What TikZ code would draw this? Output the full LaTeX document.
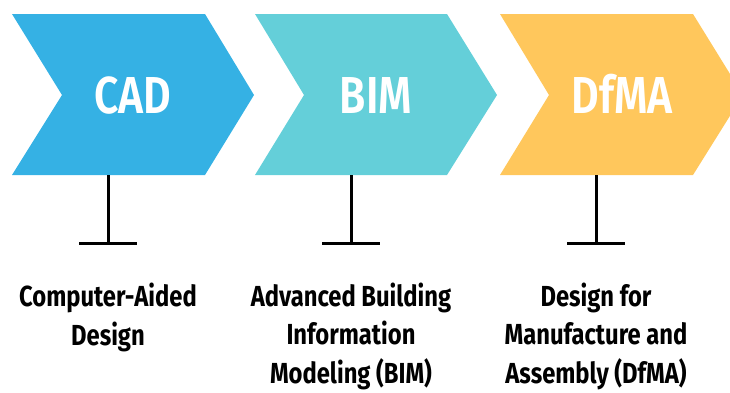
\documentclass[tikz,border=0pt]{standalone}
\usepackage{fontspec}
\setmainfont[FakeStretch=0.82]{Fira Sans}
\newfontfamily\titlefont{Fira Sans}[UprightFont={* SemiBold}, FakeStretch=0.82]
\definecolor{cadblue}{HTML}{35B1E4}
\definecolor{bimteal}{HTML}{64CFD9}
\definecolor{dfmayellow}{HTML}{FFC75C}
\begin{document}
\begin{tikzpicture}[x=1pt,y=-1pt]
\tikzset{
  chev/.style={fill=#1, draw=none},
  titletext/.style={text=white, font=\titlefont\fontsize{52}{60}\selectfont, anchor=base, inner sep=0pt},
  desc/.style={align=center, font=\bfseries\fontsize{29}{38.5}\selectfont, anchor=base, inner sep=0pt},
  stem/.style={line width=3pt, black}
}
\useasboundingbox (0,0) rectangle (730,392);
\clip (0,0) rectangle (730,392);
% chevrons
\fill[chev=cadblue] (12,14) -- (205,14) -- (254,95) -- (205,175) -- (12,175) -- (62,95) -- cycle;
\fill[chev=bimteal] (255,14) -- (447,14) -- (497,95) -- (447,175) -- (255,175) -- (304,95) -- cycle;
\fill[chev=dfmayellow] (500,14) -- (693,14) -- (743,95) -- (693,175) -- (500,175) -- (549,95) -- cycle;
% titles
\node[titletext] (cad) at (133,113) {CAD};
\node[titletext] (bim) at (376,113) {BIM};
\node[titletext] (dfma) at (622,113) {DfMA};
% stems
\coordinate (cadtop) at (108,175); \coordinate (cadfoot) at (108,243);
\coordinate (cadL) at (79,243); \coordinate (cadR) at (137,243);
\coordinate (bimtop) at (351,175); \coordinate (bimfoot) at (351,243);
\coordinate (bimL) at (322,243); \coordinate (bimR) at (380,243);
\coordinate (dfmatop) at (596,175); \coordinate (dfmafoot) at (596,243);
\coordinate (dfmaL) at (567,243); \coordinate (dfmaR) at (625,243);
\draw[stem] (cadtop) -- (cadfoot); \draw[stem] (cadL) -- (cadR);
\draw[stem] (bimtop) -- (bimfoot); \draw[stem] (bimL) -- (bimR);
\draw[stem] (dfmatop) -- (dfmafoot); \draw[stem] (dfmaL) -- (dfmaR);
% descriptions (anchored at the baseline of the last line)
\node[desc] (caddesc) at (108,345) {Computer-Aided\\Design};
\node[desc] (bimdesc) at (351,383) {Advanced Building\\Information\\Modeling (BIM)};
\node[desc] (dfmadesc) at (596,383) {Design for\\Manufacture and\\Assembly (DfMA)};
\end{tikzpicture}
\end{document}
